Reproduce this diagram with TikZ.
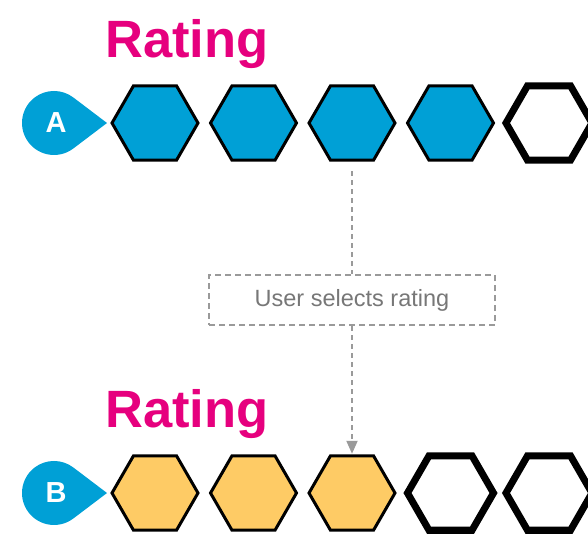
\documentclass[tikz,border=0pt]{standalone}
\usepackage{fontspec}
\setmainfont{Liberation Sans}
\usetikzlibrary{shapes.geometric,arrows.meta}
\definecolor{pinblue}{HTML}{00A0D6}
\definecolor{hexorange}{HTML}{FECB65}
\definecolor{ratingpink}{HTML}{E6007E}
\definecolor{dashgray}{HTML}{9A9A9A}
\definecolor{labelgray}{HTML}{777777}
\begin{document}
\begin{tikzpicture}[x=1pt,y=-1pt,
  hexbase/.style={regular polygon, regular polygon sides=6,
    minimum size=86pt, inner sep=0pt, outer sep=0pt},
  fullhex/.style={hexbase, draw=black, line width=3pt, fill=#1},
  emptyhex/.style={hexbase, draw=black, line width=7pt, fill=white},
  title/.style={text=ratingpink, font=\bfseries\fontsize{52.5}{60}\selectfont, anchor=base, inner sep=0pt},
  pinlabel/.style={text=white, font=\bfseries\fontsize{29}{32}\selectfont, inner sep=0pt},
  pinshape/.style={fill=pinblue},
  selbox/.style={draw=dashgray, line width=2pt, dash pattern=on 6pt off 4pt,
    minimum width=286pt, minimum height=50pt, text=labelgray,
    font=\fontsize{23.5}{26}\selectfont},
  conn/.style={draw=dashgray, line width=2pt, dash pattern=on 5pt off 4pt}
]
\useasboundingbox (0,0) rectangle (588,533);

% titles
\node[title] (ratingA) at (187,57) {Rating};
\node[title] (ratingB) at (187,427) {Rating};

% pins
\fill[pinshape] (107,123) -- (73.3,148.5) arc[start angle=52.9,end angle=307.1,radius=32] -- cycle;
\node[pinlabel] (pinA) at (56,123) {A};
\fill[pinshape] (107,493) -- (73.3,518.5) arc[start angle=52.9,end angle=307.1,radius=32] -- cycle;
\node[pinlabel] (pinB) at (56,493) {B};

% top row
\node[fullhex=pinblue] (a1) at (155,123) {};
\node[fullhex=pinblue] (a2) at (253.5,123) {};
\node[fullhex=pinblue] (a3) at (352,123) {};
\node[fullhex=pinblue] (a4) at (450.5,123) {};
\node[emptyhex] (a5) at (549,123) {};

% bottom row
\node[fullhex=hexorange] (b1) at (155,493) {};
\node[fullhex=hexorange] (b2) at (253.5,493) {};
\node[fullhex=hexorange] (b3) at (352,493) {};
\node[emptyhex] (b4) at (450.5,493) {};
\node[emptyhex] (b5) at (549,493) {};

% selection box and connectors
\node[selbox] (sel) at (352,300) {User selects rating};
\draw[conn, shorten <=11pt] (a3) -- (sel);
\draw[conn, -{Triangle[width=11pt,length=13pt]}, shorten >=2pt] (sel) -- (b3);
\end{tikzpicture}
\end{document}
